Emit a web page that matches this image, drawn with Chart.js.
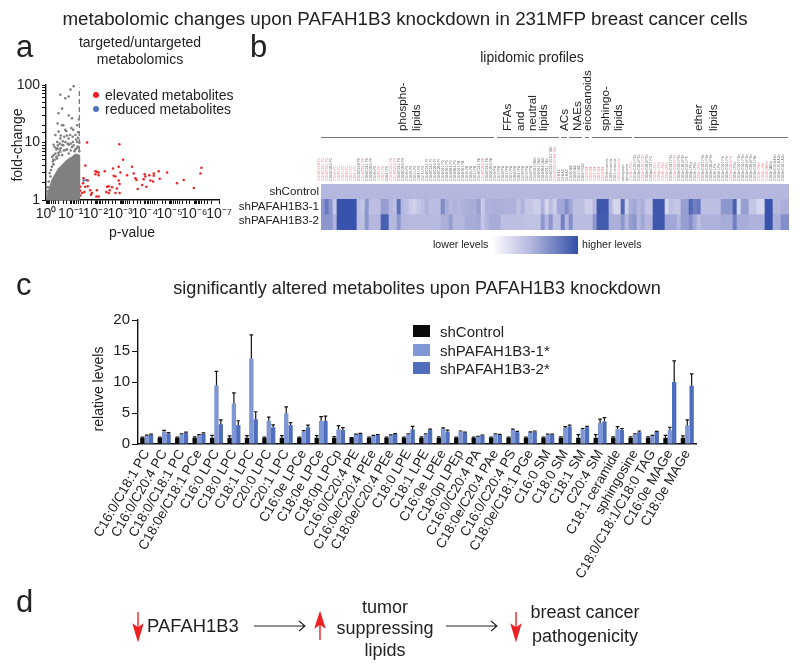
<!DOCTYPE html>
<html>
<head>
<meta charset="utf-8">
<title>PAFAH1B3 knockdown</title>
<script src="https://cdn.jsdelivr.net/npm/chart.js@4"></script>
<style>
  html, body { margin: 0; padding: 0; background: #fff; }
  #page { position: relative; width: 800px; height: 671px; overflow: hidden; font-family: "Liberation Sans", Arial, sans-serif; color: #222; }
  #page canvas { position: absolute; }
  .t { position: absolute; white-space: nowrap; line-height: 1; }
  .swatch { position: absolute; }
</style>
</head>
<body>
<div id="page">
  <canvas id="scatter" width="240" height="175" style="left:0;top:70px"></canvas>
  <canvas id="heat" width="489" height="90" style="left:311px;top:140px"></canvas>
  <canvas id="bars" width="720" height="300" style="left:80px;top:300px"></canvas>
  <div class="swatch" style="left:492px;top:236px;width:86px;height:18px;background:linear-gradient(to right,#fff,#b4b6de 45%,#3351a8)"></div>
  <svg id="lines" width="800" height="671" style="position:absolute;left:0;top:0">
    <g stroke="#777" stroke-width="1">
      <line x1="321" x2="494" y1="137.5" y2="137.5"/>
      <line x1="497" x2="559" y1="137.5" y2="137.5"/>
      <line x1="561" x2="567" y1="137.5" y2="137.5"/>
      <line x1="569" x2="582" y1="137.5" y2="137.5"/>
      <line x1="585" x2="589" y1="137.5" y2="137.5"/>
      <line x1="592" x2="632" y1="137.5" y2="137.5"/>
      <line x1="634" x2="788" y1="137.5" y2="137.5"/>
    </g>
    <!-- panel d arrows -->
    <g stroke="#ed2024" stroke-width="1.4" fill="#ed2024">
      <line x1="138" y1="612" x2="138" y2="630"/><path d="M133.5 625 L138 640 L142.5 625 L138 628 Z"/>
      <line x1="320" y1="640" x2="320" y2="622"/><path d="M315.500 627 L320 613 L324.500 627 L320 624 Z"/>
      <line x1="516" y1="612" x2="516" y2="630"/><path d="M511.500 625 L516 640 L520.500 625 L516 628 Z"/>
    </g>
    <g stroke="#222" stroke-width="1.1" fill="none">
      <path d="M254 626 H304 M299 621 L305 626 L299 631"/>
      <path d="M446 626 H496 M491 621 L497 626 L491 631"/>
    </g>
  </svg>
</div>
<script>
// panel a: p-values as -log10(p), fold changes as log10(fc)
const massP = [0, 0.108, 0.24, 0.38, 0.51, 0.65, 0.78, 0.92, 1.05, 1.19, 1.35, 1.36];
const massFC = [0, 0.17, 0.35, 0.46, 0.55, 0.61, 0.67, 0.72, 0.75, 0.80, 0.78, 0.03];
const grayP = [1.12, .58, .92, .78, .65, .51, .92, 1.05, .47, .65, 1.26, .78, 1.03, .51, .38, 1.19, .74, .92, .58, .45, 1.26, 1.09, .78, .31, .65, .92, 1.28, .45, 1.05, .78, 1.19, .38, .58, .28, .45, .65, .92, 1.32, .31, .51, .24, .11, .18, .99,
  .2, .3, .35, .42, .5, .55, .6, .7, .72, .85, .88, 1.0, 1.0, 1.12, 1.15, 1.25, 1.3, 1.35, 1.35, .85, .68, .42, .35, .25, .15, .08, .06, .3, .55, 1.08, 1.3, 1.22, .98, .6, .48, .82, .7, 1.1, 1.33];
const grayFC = [1.98, 1.83, 1.80, 1.77, 1.59, 1.51, 1.47, 1.42, 1.33, 1.30, 1.30, 1.22, 1.25, 1.19, 1.13, 1.13, 1.10, 1.07, 1.07, 1.01, 1.01, 1.01, 1.01, .96, .96, .96, .93, .90, .92, .87, .88, .81, .84, .67, .72, .78, .81, .92, .78, .78, .58, .32, .41, 1.92,
  .52, .62, .7, .75, .82, .88, .9, .95, .86, .88, .98, .98, .86, .95, .85, .9, 1.08, 1.0, .85, 1.12, 1.02, .88, .92, .75, .47, .22, .15, .7, .98, 1.1, 1.18, 1.05, 1.13, 1.12, .95, 1.2, 1.3, 1.22, 1.4];
const redP = [1.66, 2.97, 3.12, 1.59, 3.48, 2.94, 2.71, 6.29, 6.25, 2.0, 2.06, 2.13, 2.0, 2.13, 2.38, 2.74, 2.81, 3.01, 3.28, 3.55, 3.62, 3.66, 3.99, 4.02, 3.95, 4.18, 4.36, 4.56, 4.36, 4.90, 4.60, 4.22, 4.33, 5.57, 5.30, 5.98, 2.94, 2.98, 2.87, 2.81, 3.89, 3.71, 4.06, 1.52, 1.69, 1.50, 1.59, 1.69, 1.39, 1.46, 1.39, 1.55, 1.79, 1.86, 1.82, 2.04, 2.13, 2.06, 2.47, 2.54, 2.58, 2.44, 2.54, 2.67, 2.98, 1.39];
const redFC = [1.0, .97, .70, .60, .58, .58, .55, .56, .46, .50, .49, .48, .45, .43, .50, .42, .41, .48, .43, .46, .38, .35, .45, .41, .36, .43, .46, .50, .42, .48, .37, .34, .32, .35, .29, .21, .34, .28, .20, .12, .26, .19, .23, .38, .34, .29, .23, .24, .16, .12, .08, .14, .17, .12, .09, .06, .06, .17, .23, .24, .17, .14, .12, .22, .12, .23];
const blueP = [1.52, 1.63];
const blueFC = [.34, .35];
const xTickLabels = ['10⁰', '10⁻¹', '10⁻²', '10⁻³', '10⁻⁴', '10⁻⁵', '10⁻⁶', '10⁻⁷'];
const yTickLabels = ['1', '10', '100'];

// panel b: colour level of every cell, 0 pale to 1 dark
const heatRows = ['shControl', 'shPAFAH1B3-1', 'shPAFAH1B3-2'];
const heatLabels = [
  'C16:0/C16:0 PC', 'C16:0/C18:1 PC', 'C18:0/C18:1 PC', 'C18:0/C20:4 PC', 'C16:0 LPC', 'C18:0 LPC', 'C18:1 LPC', 'C20:0 LPC', 'C20:1 LPC', 'C20:4 LPC',
  'C16:0/C16:0 PE', 'C16:0/C18:1 PE', 'C18:0/C18:1 PE', 'C18:0/C20:4 PE', 'C16:0 LPE', 'C18:0 LPE', 'C18:1 LPE', 'C20:4 LPE', 'C16:0/C18:1 PS', 'C16:0/C20:4 PS',
  'C18:0/C18:1 PS', 'C18:0/C20:4 PS', 'C16:0 LPS', 'C18:0 LPS', 'C18:1 LPS', 'C20:4 LPS', 'C22:6 LPS', 'C16:0/C18:1 PI', 'C18:0/C18:1 PI', 'C16:0/C20:4 PI',
  'C18:0/C20:4 PI', 'C16:0/18:1 PG', 'C18:0/18:1 PG', 'C16:0/20:4 PG', 'C18:0/20:4 PG', 'C16:0/18:1 PA', 'C18:0/18:1 PA', 'C16:0 LPA', 'C18:0 LPA', 'C18:1 LPA',
  'C16:0/C18:1 PA', 'C16:0/C20:4 PA', 'C18:0/C18:1 PA', 'C18:0/C20:4 PA', 'C16:0 FFA', 'C16:1 FFA', 'C18:0 FFA', 'C18:1 FFA', 'C18:2 FFA', 'C20:0 FFA',
  'C20:4 FFA', 'C22:0 FFA', 'C22:6 FFA', 'C24:0 FFA', 'C16:0/18:1 DAG', 'C18:0/18:1 DAG', 'C18:0/20:4 DAG', 'C16:0/18:1 TAG', 'C16:0/C18:1/C18:1 TAG', 'C18:0/C18:1/C18:0 TAG',
  'C2:0 AC', 'C4:0 AC', 'C6:0 AC', 'C16:0 NAE', 'C18:0 NAE', 'C18:1 NAE', 'C20:4 PGE2', 'C16:0 SM', 'C18:0 SM', 'C18:1 SM',
  'C20:4 SM', 'C24:0 SM', 'C16:0 ceramide', 'C18:0 ceramide', 'C18:1 ceramide', 'C24:0 ceramide', 'sphingosine', 'sphinganine', 'C16:0e LPCe', 'C16:0e/C18:1 PCe',
  'C16:0e/C20:4 PCe', 'C18:0e/C18:1 PCe', 'C18:0e/C20:4 PCe', 'C18:0p/C18:1 PC', 'C18:0e LPCe', 'C18:0p LPCp', 'C16:0e LPEe', 'C18:0e LPEe', 'C16:0e/C18:1 PEe', 'C16:0e/C20:4 PEe',
  'C18:0e/C18:1 PEe', 'C18:0e/C20:4 PEe', 'C18:0p/C18:1 PE', 'C18:0p LPEp', 'C16:0e LPSe', 'C18:0e LPSe', 'C16:0e/C18:1 PSe', 'C18:0e/C18:1 PSe', 'C18:0e/C20:4 PSe', 'C16:0e LPIe',
  'C18:0e LPIe', 'C16:0e/C18:1 PIe', 'C18:0e/C18:1 PIe', 'C18:0e/C20:4 PIe', 'C18:0e LPGe', 'C16:0e/C18:1 PGe', 'C18:0e/C18:1 PGe', 'C16:0e/C20:4 PGe', 'C18:0e/C20:4 PGe', 'C16:0e/C18:1 PAe',
  'C16:0e LPAe', 'C18:0e LPAe', 'C16:0e MAGe', 'C18:0e MAGe', 'C16:0e/C16:0 AGe', 'C18:0e/C16:0 AGe', 'C18:0e/C18:1 AGe'
];
const heatRed = [0, 1, 2, 4, 5, 6, 7, 8, 9, 11, 15, 16, 18, 19, 41, 59, 67, 68, 69, 70, 71, 75, 78, 81, 84, 85, 86, 87, 89, 95, 103, 110, 111, 112];
const controlLevels = [
  .35, .35, .35, .35, .35, .35, .35, .35, .35, .35, .35, .35, .35, .35, .35, .35, .35, .35, .35, .35,
  .35, .35, .35, .35, .35, .35, .35, .35, .35, .35, .35, .35, .35, .35, .35, .35, .35, .35, .35, .35,
  .35, .35, .35, .35, .35, .35, .35, .35, .35, .35, .35, .35, .35, .35, .35, .35, .35, .35, .35, .35,
  .35, .35, .35, .35, .35, .35, .35, .35, .35, .35, .35, .35, .35, .35, .35, .35, .35, .35, .35, .35,
  .35, .35, .35, .35, .35, .35, .35, .35, .35, .35, .35, .35, .35, .35, .35, .35, .35, .35, .35, .35,
  .35, .35, .35, .35, .35, .35, .35, .35, .35, .35, .35, .35, .35, .35, .35, .35, .35
];
const kd1Levels = [
  .55, .75, .55, .25, .98, .98, .98, .98, .98, .3, .25, .55, .3, .3, .3, .5, .5, .35, .3, .8,
  .35, .3, .22, .18, .25, .3, .38, .3, .32, .32, .62, .42, .35, .38, .35, .38, .4, .42, .42, .5,
  .22, .38, .38, .4, .4, .4, .38, .38, .38, .28, .38, .25, .25, .2, .2, .38, .15, .32, .2, .45,
  .45, .6, .45, .3, .3, .3, .2, .2, .35, .95, .95, .95, .35, .15, .15, .85, .2, .4, .45, .35,
  .4, .25, .25, .95, .95, .95, .15, .3, .25, .25, .5, .5, .85, .7, .75, .3, .3, .3, .3, .3,
  .55, .55, .55, .9, .15, .5, .5, .25, .25, .15, .15, .98, .98, .35, .35, .4, .4
];
const kd2Levels = [
  .55, .55, .55, .38, .98, .98, .98, .98, .98, .3, .3, .55, .35, .35, .35, .9, .9, .35, .35, .55,
  .35, .35, .33, .33, .33, .33, .33, .33, .33, .33, .4, .4, .5, .35, .35, .35, .42, .42, .42, .45,
  .25, .35, .42, .42, .42, .3, .3, .3, .3, .3, .3, .28, .28, .28, .28, .55, .35, .55, .3, .3,
  .7, .35, .6, .32, .32, .32, .32, .32, .55, .92, .92, .92, .4, .4, .4, .55, .35, .5, .55, .35,
  .45, .35, .35, .95, .95, .95, .45, .45, .45, .35, .5, .5, .6, .45, .3, .38, .38, .38, .38, .38,
  .42, .42, .42, .7, .42, .42, .42, .38, .38, .38, .38, .98, .98, .4, .4, .6, .6
];

// panel c
const lipids = [
  'C16:0/C18:1 PC', 'C16:0/C20:4 PC', 'C18:0/C18:1 PC', 'C18:0e/C18:1 PCe', 'C16:0 LPC', 'C18:0 LPC', 'C18:1 LPC', 'C20:0 LPC',
  'C20:1 LPC', 'C16:0e LPCe', 'C18:0e LPCe', 'C18:0p LPCp', 'C16:0/C20:4 PE', 'C16:0e/C20:4 PEe', 'C18:0e/C20:4 PEe', 'C18:0 LPE',
  'C18:1 LPE', 'C16:0e LPEe', 'C18:0p LPEp', 'C16:0/C20:4 PA', 'C18:0e/C20:4 PAe', 'C16:0/C20:4 PS', 'C18:0e/C18:1 PGe', 'C16:0 SM',
  'C18:0 SM', 'C18:1 SM', 'C20:4 SM', 'C18:1 ceramide', 'sphingosine', 'C18:0/C18:1/C18:0 TAG', 'C16:0e MAGe', 'C18:0e MAGe'
];
const shControl = [1, 1, 1, 1, 1, 1, 1, 1, 1, 1, 1, 1, 1, 1, 1, 1, 1, 1, 1, 1, 1, 1, 1, 1, 1, 1, 1, 1, 1, 1, 1, 1];
const shControlErr = [.1, .1, .1, .15, .4, .3, .35, .1, .35, .1, .35, .2, .05, .1, .1, .1, .15, .15, .1, .1, .1, .1, .1, .1, .15, .5, .5, .15, .15, .15, .4, .3];
const sh1 = [1.35, 2.0, 1.55, 1.4, 9.45, 6.55, 13.8, 3.75, 4.95, 2.0, 3.7, 2.35, 1.55, 1.3, 1.4, 1.55, 1.55, 2.4, 2.0, 1.2, 1.6, 2.25, 1.9, 1.5, 2.6, 2.35, 3.4, 2.4, 1.55, 1.3, 2.25, 3.0];
const sh1Err = [.08, .2, .1, .1, 2.25, 1.7, 3.8, .6, 1.05, .15, .7, .6, .05, .08, .08, .1, .1, .2, .1, .05, .05, .15, .05, .08, .2, .15, .6, .4, .1, .1, .45, .9];
const sh2 = [1.5, 1.7, 1.8, 1.65, 3.2, 3.05, 4.0, 2.7, 3.05, 2.7, 3.75, 2.25, 1.65, 1.45, 1.6, 2.35, 2.25, 2.0, 1.8, 1.4, 1.5, 1.9, 2.0, 1.5, 2.85, 2.7, 3.65, 2.3, 1.9, 1.95, 10.0, 9.4];
const sh2Err = [.08, .12, .1, .15, .7, .7, 1.2, .4, .4, .35, .75, .4, .05, .08, .06, .5, .15, .25, .1, .05, .06, .15, .1, .1, .2, .15, .6, .2, .2, .1, 3.4, 1.9];
const seriesNames = ['shControl', 'shPAFAH1B3-1*', 'shPAFAH1B3-2*'];
const seriesColors = ['#0a0a0a', '#8097d5', '#4f6fbe'];

const page = document.getElementById('page');

// places text, rot=true makes it read upwards starting at x,y
function txt(s, x, y, size, opts = {}) {
  const d = document.createElement('div');
  d.className = 't';
  d.textContent = s;
  d.style.left = x + 'px';
  d.style.top = y + 'px';
  d.style.fontSize = size + 'px';
  if (opts.color) d.style.color = opts.color;
  if (opts.rot) {
    d.style.transformOrigin = '0 50%';
    d.style.transform = 'translateY(-50%) rotate(-90deg)';
  } else if (opts.rotCenter) {
    d.style.transform = 'translate(-50%,-50%) rotate(-90deg)';
  } else if (opts.right) {
    d.style.transform = 'translate(-100%,-50%)';
  } else if (opts.left) {
    d.style.transform = 'translateY(-50%)';
  } else {
    d.style.transform = 'translate(-50%,-50%)';
  }
  page.appendChild(d);
}

function mix(a, b, f) {
  return 'rgb(' + a.map((v, i) => Math.round(v + (b[i] - v) * f)).join(',') + ')';
}
function heatColor(v) {
  const pale = [236, 237, 248], base = [181, 183, 222], dark = [52, 80, 170];
  return v < .35 ? mix(pale, base, v / .35) : mix(base, dark, (v - .35) / .65);
}

const toLog = (ps, fcs) => ps.map((p, i) => ({ x: Math.pow(10, -p), y: Math.pow(10, fcs[i]) }));

// headings and panel text
txt('metabolomic changes upon PAFAH1B3 knockdown in 231MFP breast cancer cells', 405, 19, 18.8);
txt('a', 16, 46, 31, { left: true });
txt('b', 250, 46, 31, { left: true });
txt('c', 16, 284, 31, { left: true });
txt('d', 16, 601, 31, { left: true });
txt('targeted/untargeted', 140, 42, 14);
txt('metabolomics', 140, 59, 14);
txt('fold-change', 17, 145, 14, { rotCenter: true });
txt('p-value', 132, 232, 14);
txt('elevated metabolites', 105, 95, 14, { left: true });
txt('reduced metabolites', 105, 109, 14, { left: true });
txt('lipidomic profiles', 532, 57, 14);
txt('phospho-', 402, 131, 11.7, { rot: true });
txt('lipids', 416, 131, 11.7, { rot: true });
txt('FFAs', 507, 131, 11.7, { rot: true });
txt('and', 520, 131, 11.7, { rot: true });
txt('neutral', 532, 131, 11.7, { rot: true });
txt('lipids', 543, 131, 11.7, { rot: true });
txt('ACs', 564, 131, 11.7, { rot: true });
txt('NAEs', 577, 131, 11.7, { rot: true });
txt('eicosanoids', 588, 131, 11.5, { rot: true });
txt('sphingo-', 605, 131, 11.7, { rot: true });
txt('lipids', 618, 131, 11.7, { rot: true });
txt('ether', 698, 131, 11.7, { rot: true });
txt('lipids', 713, 131, 11.7, { rot: true });
heatRows.forEach((r, i) => txt(r, 319, 191 + i * 14.7, 11.6, { right: true }));
txt('lower levels', 433, 244, 10.6, { left: true });
txt('higher levels', 582, 244, 10.6, { left: true });
txt('significantly altered metabolites upon PAFAH1B3 knockdown', 417, 288, 18.1);
txt('relative levels', 98, 389, 14, { rotCenter: true });
txt('PAFAH1B3', 147, 626, 18.4, { left: true });
txt('tumor', 385, 607, 18);
txt('suppressing', 385, 628, 18);
txt('lipids', 385, 650, 18);
txt('breast cancer', 585, 612, 18);
txt('pathogenicity', 585, 636, 18);

// legend dots of panel a
[['#ed2024', 95], ['#4f74bd', 109]].forEach(([c, y]) => {
  const s = document.createElement('div');
  s.className = 'swatch';
  s.style.cssText = `left:93px;top:${y - 3}px;width:6px;height:6px;border-radius:50%;background:${c}`;
  page.appendChild(s);
});
// legend of panel c
seriesNames.forEach((n, i) => {
  const s = document.createElement('div');
  s.className = 'swatch';
  s.style.cssText = `left:413px;top:${325 + i * 18.5}px;width:17px;height:12px;background:${seriesColors[i]}`;
  page.appendChild(s);
  txt(n, 440, 331 + i * 18.5, 15, { left: true });
});

const axisFont = { family: '"Liberation Sans", Arial, sans-serif', size: 14 };

new Chart(document.getElementById('scatter'), {
  type: 'scatter',
  data: {
    datasets: [
      { data: toLog(massP, massFC), showLine: true, fill: 'start', backgroundColor: '#808080', borderColor: '#808080', borderWidth: 1, pointRadius: 0 },
      { data: toLog(grayP, grayFC), backgroundColor: '#808080', pointRadius: 1.3, pointBorderWidth: 0 },
      { data: [{ x: 0.045, y: 1 }, { x: 0.045, y: 90 }], showLine: true, borderColor: '#555', borderWidth: 1, borderDash: [5, 3], pointRadius: 0 },
      { data: toLog(redP, redFC), backgroundColor: '#ed2024', pointRadius: 1.25, pointBorderWidth: 0 },
      { data: toLog(blueP, blueFC), backgroundColor: '#4f74bd', pointRadius: 1.25, pointBorderWidth: 0 }
    ]
  },
  options: {
    responsive: false,
    animation: false,
    layout: { padding: { top: 15, right: 21 } },
    plugins: { legend: { display: false }, tooltip: { enabled: false } },
    scales: {
      x: {
        type: 'logarithmic',
        reverse: true,
        min: 1e-7,
        max: 1,
        afterFit: s => { s.height = 45; },
        border: { color: '#111', width: 1.4 },
        grid: { drawOnChartArea: false, color: '#111', tickLength: 4 },
        ticks: {
          color: '#222',
          font: axisFont,
          padding: 2,
          autoSkip: false,
          maxRotation: 0,
          callback: v => {
            const e = Math.log10(v);
            return Math.abs(e - Math.round(e)) < 1e-6 ? xTickLabels[-Math.round(e)] : '';
          }
        }
      },
      y: {
        type: 'logarithmic',
        min: 1,
        max: 100,
        afterFit: s => { s.width = 46; },
        border: { color: '#111', width: 1.4 },
        grid: { drawOnChartArea: false, color: '#111', tickLength: 4 },
        ticks: {
          color: '#222',
          font: axisFont,
          padding: 2,
          autoSkip: false,
          callback: v => {
            const e = Math.log10(v);
            return Math.abs(e - Math.round(e)) < 1e-6 ? yTickLabels[Math.round(e)] : '';
          }
        }
      }
    }
  }
});

// one stacked bar per heatmap cell, shControl on top
const heatSets = [kd2Levels, kd1Levels, controlLevels].map(levels => ({
  data: levels.map(() => 1),
  backgroundColor: levels.map(heatColor),
  borderWidth: 0,
  barPercentage: 1,
  categoryPercentage: 1
}));

new Chart(document.getElementById('heat'), {
  type: 'bar',
  data: { labels: heatLabels, datasets: heatSets },
  options: {
    responsive: false,
    animation: false,
    layout: { padding: { left: 10, right: 11 } },
    plugins: { legend: { display: false }, tooltip: { enabled: false } },
    scales: {
      x: {
        position: 'top',
        stacked: true,
        afterFit: s => { s.height = 44; },
        grid: { display: false },
        border: { display: false },
        ticks: {
          autoSkip: false,
          minRotation: 90,
          maxRotation: 90,
          padding: -5,
          font: { family: axisFont.family, size: 3.2 },
          color: c => heatRed.includes(c.index) ? '#ee8a90' : '#6e6e6e'
        }
      },
      y: { stacked: true, display: false, min: 0, max: 3 }
    }
  }
});

// whiskers for panel c, only the upper side is drawn
const errorBars = {
  id: 'errorBars',
  afterDatasetsDraw(chart) {
    const { ctx, scales } = chart;
    ctx.save();
    ctx.strokeStyle = '#111';
    ctx.lineWidth = 1.2;
    chart.data.datasets.forEach((ds, i) => {
      chart.getDatasetMeta(i).data.forEach((bar, j) => {
        const top = scales.y.getPixelForValue(ds.data[j] + ds.err[j]);
        ctx.beginPath();
        ctx.moveTo(bar.x, bar.y);
        ctx.lineTo(bar.x, top);
        ctx.moveTo(bar.x - 1.8, top);
        ctx.lineTo(bar.x + 1.8, top);
        ctx.stroke();
      });
    });
    ctx.restore();
  }
};

new Chart(document.getElementById('bars'), {
  type: 'bar',
  data: {
    labels: lipids,
    datasets: [
      { label: seriesNames[0], data: shControl, err: shControlErr, backgroundColor: seriesColors[0] },
      { label: seriesNames[1], data: sh1, err: sh1Err, backgroundColor: seriesColors[1] },
      { label: seriesNames[2], data: sh2, err: sh2Err, backgroundColor: seriesColors[2] }
    ]
  },
  options: {
    responsive: false,
    animation: false,
    layout: { padding: { top: 20, right: 104 } },
    datasets: { bar: { barPercentage: 1, categoryPercentage: 0.75 } },
    plugins: { legend: { display: false }, tooltip: { enabled: false } },
    scales: {
      x: {
        afterFit: s => { s.height = 156; },
        grid: { display: false },
        border: { color: '#111', width: 1.6 },
        ticks: { autoSkip: false, minRotation: 60, maxRotation: 60, padding: -5, color: '#222', font: { family: axisFont.family, size: 13.5 } }
      },
      y: {
        min: 0,
        max: 20,
        afterFit: s => { s.width = 58; },
        grid: { drawOnChartArea: false, color: '#111', tickLength: 6 },
        border: { color: '#111', width: 1.4 },
        ticks: { stepSize: 5, padding: 2, color: '#222', font: { family: axisFont.family, size: 15 } }
      }
    }
  },
  plugins: [errorBars]
});
</script>
</body>
</html>
